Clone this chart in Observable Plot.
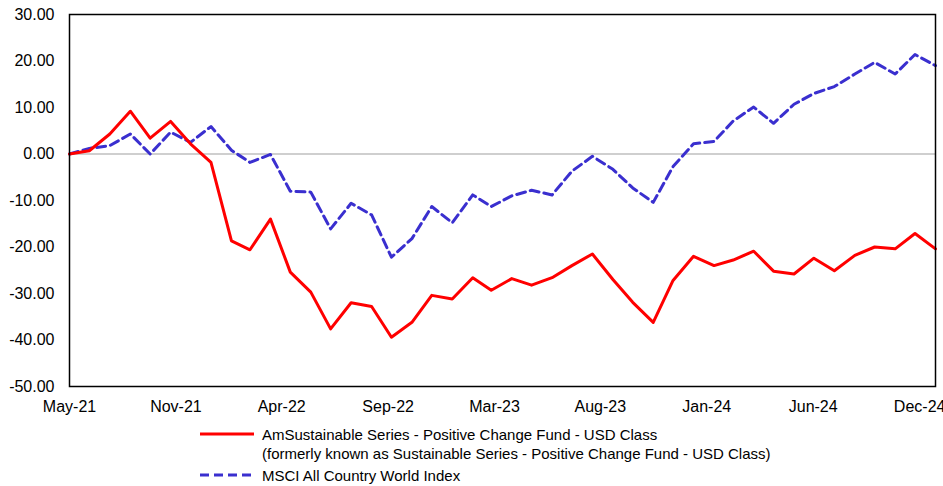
<!DOCTYPE html>
<html>
<head>
<meta charset="utf-8">
<script src="https://cdn.jsdelivr.net/npm/d3@7"></script>
<script src="https://cdn.jsdelivr.net/npm/@observablehq/plot@0.6"></script>
<style>
  body { margin: 0; background: #fff; font-family: "Liberation Sans", Arial, sans-serif; }
  #wrap { position: relative; width: 943px; height: 486px; overflow: hidden; background: #fff; }
  .lg-text { position: absolute; font-size: 15px; line-height: 19px; color: #000; white-space: nowrap; }
  .lg-swatch { position: absolute; }
</style>
</head>
<body>
<div id="wrap">
  <div id="chart"></div>
</div>
<script>
// Month-end observation dates
const dates = [
  "2021-05-31","2021-06-30","2021-07-31","2021-08-31","2021-09-30","2021-10-31","2021-11-30","2021-12-31",
  "2022-01-31","2022-02-28","2022-03-31","2022-04-30","2022-05-31","2022-06-30","2022-07-31","2022-08-31",
  "2022-09-30","2022-10-31","2022-11-30","2022-12-31",
  "2023-01-31","2023-02-28","2023-03-31","2023-04-30","2023-05-31","2023-06-30","2023-07-31","2023-08-31",
  "2023-09-30","2023-10-31","2023-11-30","2023-12-31",
  "2024-01-31","2024-02-29","2024-03-31","2024-04-30","2024-05-31","2024-06-30","2024-07-31","2024-08-31",
  "2024-09-30","2024-10-31","2024-11-30","2024-12-31"
];

// Cumulative return (%) - AmSustainable Series - Positive Change Fund - USD Class
const fundValues = [
  0.0, 0.7, 4.3, 9.2, 3.4, 7.0, 2.2, -1.8,
  -18.7, -20.6, -14.0, -25.4, -29.7, -37.6, -32.0, -32.8,
  -39.4, -36.2, -30.4, -31.2,
  -26.6, -29.3, -26.8, -28.2, -26.6, -24.0, -21.5, -27.0,
  -31.9, -36.2, -27.2, -22.0,
  -24.0, -22.8, -20.9, -25.2, -25.8, -22.4, -25.1, -21.8,
  -20.0, -20.4, -17.1, -20.4
];

// Cumulative return (%) - MSCI All Country World Index
const indexValues = [
  0.0, 1.2, 1.8, 4.3, 0.0, 4.7, 2.5, 5.9,
  0.8, -1.8, -0.1, -8.0, -8.2, -16.1, -10.6, -13.1,
  -22.2, -18.2, -11.3, -14.8,
  -8.8, -11.3, -9.0, -7.8, -8.8, -3.7, -0.5, -3.3,
  -7.3, -10.4, -2.7, 2.2,
  2.7, 7.1, 10.1, 6.6, 10.7, 13.0, 14.5, 17.2,
  19.7, 17.2, 21.4, 19.0
];

const fundName = "AmSustainable Series - Positive Change Fund - USD Class";
const fundNote = "(formerly known as Sustainable Series - Positive Change Fund - USD Class)";
const indexName = "MSCI All Country World Index";

// Axis ticks (date axis) and their labels
const xTickDates = ["2021-05-31","2021-11-08","2022-04-17","2022-09-25","2023-03-05","2023-08-12","2024-01-20","2024-06-29","2024-12-07"];
const xTickLabels = ["May-21","Nov-21","Apr-22","Sep-22","Mar-23","Aug-23","Jan-24","Jun-24","Dec-24"];
const yTicks = [-50, -40, -30, -20, -10, 0, 10, 20, 30];

const fundColor = "#FF0000";
const indexColor = "#3A2FCF";

const parse = d3.utcParse("%Y-%m-%d");
const fundData = dates.map((d, i) => ({date: parse(d), value: fundValues[i]}));
const indexData = dates.map((d, i) => ({date: parse(d), value: indexValues[i]}));
const tickDates = xTickDates.map(parse);
const labelOf = new Map(tickDates.map((d, i) => [+d, xTickLabels[i]]));

const chart = Plot.plot({
  width: 943,
  height: 425,
  marginLeft: 69,
  marginRight: 8,
  marginTop: 14,
  marginBottom: 39,
  style: {fontFamily: "'Liberation Sans', Arial, sans-serif", fontSize: "16px", color: "#000", background: "#fff"},
  x: {
    type: "utc",
    domain: [parse(dates[0]), parse(dates[dates.length - 1])],
    ticks: tickDates,
    tickFormat: d => labelOf.get(+d),
    tickSize: 0,
    tickPadding: 14,
    label: null
  },
  y: {
    domain: [-50, 30],
    ticks: yTicks,
    tickFormat: d => d.toFixed(2),
    tickSize: 0,
    tickPadding: 15,
    label: null
  },
  marks: [
    Plot.ruleY([0], {stroke: "#BFBFBF", strokeWidth: 1.5}),
    Plot.line(indexData, {x: "date", y: "value", stroke: indexColor, strokeWidth: 3, strokeDasharray: "9,5", strokeLinejoin: "round"}),
    Plot.line(fundData, {x: "date", y: "value", stroke: fundColor, strokeWidth: 3, strokeLinejoin: "round"}),
    Plot.frame({stroke: "#000", strokeWidth: 1.5})
  ]
});
document.getElementById("chart").appendChild(chart);

// Legend below the chart
const wrap = document.getElementById("wrap");
function swatch(top, color, dash) {
  const ns = "http://www.w3.org/2000/svg";
  const s = document.createElementNS(ns, "svg");
  s.setAttribute("width", 56);
  s.setAttribute("height", 6);
  s.setAttribute("class", "lg-swatch");
  s.style.left = "199px";
  s.style.top = (top - 3) + "px";
  const l = document.createElementNS(ns, "line");
  l.setAttribute("x1", 1); l.setAttribute("x2", 55);
  l.setAttribute("y1", 3); l.setAttribute("y2", 3);
  l.setAttribute("stroke", color);
  l.setAttribute("stroke-width", 3);
  if (dash) l.setAttribute("stroke-dasharray", dash);
  s.appendChild(l);
  wrap.appendChild(s);
}
function text(top, str) {
  const t = document.createElement("div");
  t.className = "lg-text";
  t.style.left = "262px";
  t.style.top = (top - 9.5) + "px";
  t.textContent = str;
  wrap.appendChild(t);
}
swatch(434, fundColor, null);
text(434, fundName);
text(453, fundNote);
swatch(475, indexColor, "9,5");
text(475, indexName);
</script>
</body>
</html>
